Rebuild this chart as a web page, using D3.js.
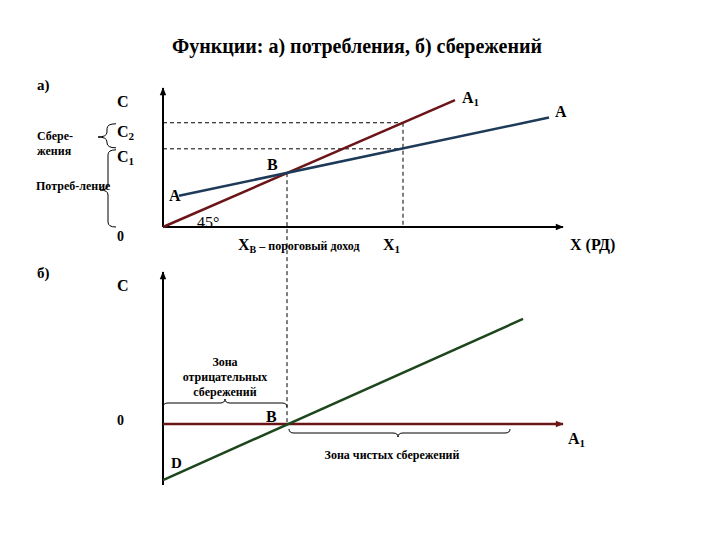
<!DOCTYPE html>
<html><head><meta charset="utf-8">
<script src="https://cdn.jsdelivr.net/npm/d3@7"></script>
<style>body{margin:0;background:#fff}svg{display:block}</style>
</head><body>
<script>
// ---- data ----
const title = "Функции: а) потребления, б) сбережений";
const incomeKeys = ["xB", "x1"];
const incomeValues = [3.1, 6.0];          // threshold income X_B, income X1
const consumptionLevels = [4.5, 6.0];     // C1, C2
const line45 = [{x: 0, y: 0}, {x: 7.3, y: 7.3}];               // A1 (45° line)
const consumptionLine = [{x: 0.4, y: 1.8}, {x: 9.65, y: 6.3}]; // A
const savingsLine = [{x: 0, y: -1.6}, {x: 9.0, y: 3.0}];       // D..S
const zeroLine = [{x: 0, y: 0}, {x: 10, y: 0}];                // A1 in panel б
const upperDomainY = [0, 8];
const lowerDomainY = [-1.74, 4.34];
const domainX = [0, 10];

const W = 720, H = 540;
const svg = d3.select("body").append("svg").attr("width", W).attr("height", H)
  .attr("font-family", "'Liberation Serif', 'DejaVu Serif', serif").attr("font-weight", "bold");
const defs = svg.append("defs");
function marker(id, color) {
  defs.append("marker").attr("id", id).attr("viewBox", "0 0 10 10").attr("refX", 9).attr("refY", 5)
    .attr("markerWidth", 10).attr("markerHeight", 8).attr("markerUnits", "userSpaceOnUse").attr("orient", "auto")
    .append("path").attr("d", "M0,1 L10,5 L0,9 Z").attr("fill", color);
}
marker("arBlack", "#000");
marker("arRed", "#6b1518");

const x = d3.scaleLinear().domain(domainX).range([163, 563]);
const yU = d3.scaleLinear().domain(upperDomainY).range([227, 88]);
const yL = d3.scaleLinear().domain(lowerDomainY).range([485, 272]);

const RED = "#6b1518", BLUE = "#1d3a58", GREEN = "#1d461d";
const line = (ys) => d3.line().x(d => x(d.x)).y(d => ys(d.y));

// title
svg.append("text").attr("x", 357).attr("y", 53).attr("text-anchor", "middle").attr("font-size", 20).text(title);

// ---------- panel a ----------
const g = svg.append("g");
const xB = incomeValues[0], x1 = incomeValues[1];
const c1 = consumptionLevels[0], c2 = consumptionLevels[1];
const dash = "4,3";
g.append("line").attr("x1", x(0)).attr("x2", x(x1)).attr("y1", yU(c2)).attr("y2", yU(c2)).attr("stroke", "#000").attr("stroke-dasharray", dash);
g.append("line").attr("x1", x(0)).attr("x2", x(x1)).attr("y1", yU(c1)).attr("y2", yU(c1)).attr("stroke", "#000").attr("stroke-dasharray", dash);
g.append("line").attr("x1", x(x1)).attr("x2", x(x1)).attr("y1", yU(c2)).attr("y2", yU(0)).attr("stroke", "#000").attr("stroke-dasharray", dash);
g.append("line").attr("x1", x(xB)).attr("x2", x(xB)).attr("y1", yU(xB)).attr("y2", yL(0)).attr("stroke", "#000").attr("stroke-dasharray", dash);

g.append("line").attr("x1", x(0)).attr("y1", yU(0)).attr("x2", x(0)).attr("y2", yU(upperDomainY[1])).attr("stroke", "#000").attr("stroke-width", 2).attr("marker-end", "url(#arBlack)");
g.append("line").attr("x1", x(0)).attr("y1", yU(0)).attr("x2", x(domainX[1])).attr("y2", yU(0)).attr("stroke", "#000").attr("stroke-width", 2).attr("marker-end", "url(#arBlack)");

g.append("path").attr("d", line(yU)(line45)).attr("stroke", RED).attr("stroke-width", 2.5).attr("fill", "none");
g.append("path").attr("d", line(yU)(consumptionLine)).attr("stroke", BLUE).attr("stroke-width", 2.5).attr("fill", "none");

function sub(sel, main, s, fs, sfs) {
  sel.append("tspan").text(main).attr("font-size", fs);
  sel.append("tspan").text(s).attr("font-size", sfs).attr("dy", 3);
}
svg.append("text").attr("x", 37).attr("y", 90).attr("font-size", 15).text("а)");
svg.append("text").attr("x", 117).attr("y", 107).attr("font-size", 16).text("C");
sub(svg.append("text").attr("x", 117).attr("y", 137), "C", "2", 16, 11);
sub(svg.append("text").attr("x", 117).attr("y", 162), "C", "1", 16, 11);
svg.append("text").attr("x", 117).attr("y", 241).attr("font-size", 14).text("0");
svg.append("text").attr("x", 37).attr("y", 140).attr("font-size", 12).text("Сбере-");
svg.append("text").attr("x", 37).attr("y", 155).attr("font-size", 12).text("жения");
svg.append("text").attr("x", 36).attr("y", 190).attr("font-size", 12).text("Потреб-ление");

sub(svg.append("text").attr("x", x(line45[1].x) + 7).attr("y", yU(line45[1].y) + 3), "A", "1", 16, 11);
svg.append("text").attr("x", x(consumptionLine[1].x) + 6).attr("y", yU(consumptionLine[1].y) - 1).attr("font-size", 16).text("A");
svg.append("text").attr("x", x(consumptionLine[0].x) - 10).attr("y", yU(consumptionLine[0].y) + 5).attr("font-size", 16).text("A");
svg.append("text").attr("x", x(xB) - 20).attr("y", yU(xB) - 3).attr("font-size", 16).text("B");
svg.append("text").attr("x", 197).attr("y", 228).attr("font-size", 16).attr("font-weight", "normal").text("45°");

const tB = svg.append("text").attr("x", 238).attr("y", 250);
tB.append("tspan").text("X").attr("font-size", 16);
tB.append("tspan").text("B").attr("font-size", 10).attr("dy", 3);
tB.append("tspan").text(" – пороговый доход").attr("font-size", 12).attr("dy", -3);
sub(svg.append("text").attr("x", x(x1) - 20).attr("y", 250), "X", "1", 16, 11);
svg.append("text").attr("x", 570).attr("y", 250).attr("font-size", 16).text("X (РД)");

function vBrace(xr, y1, y2, tipY, d) {
  const xm = xr - d / 2, xt = xr - d, r = 5;
  return `M${xr},${y1} Q${xm},${y1} ${xm},${y1 + r} L${xm},${tipY - r} Q${xm},${tipY} ${xt},${tipY} Q${xm},${tipY} ${xm},${tipY + r} L${xm},${y2 - r} Q${xm},${y2} ${xr},${y2}`;
}
svg.append("path").attr("d", vBrace(116, yU(c2) + 1, yU(c1) - 1, 137, 18)).attr("fill", "none").attr("stroke", "#000");
svg.append("path").attr("d", vBrace(116, yU(c1) + 1, yU(0), 190, 16)).attr("fill", "none").attr("stroke", "#000");

function hBrace(x1_, x2_, yEnd, tipX, d) {
  const ym = yEnd + d / 2, yt = yEnd + d, r = 5;
  return `M${x1_},${yEnd} Q${x1_},${ym} ${x1_ + r},${ym} L${tipX - r},${ym} Q${tipX},${ym} ${tipX},${yt} Q${tipX},${ym} ${tipX + r},${ym} L${x2_ - r},${ym} Q${x2_},${ym} ${x2_},${yEnd}`;
}

// ---------- panel б ----------
svg.append("text").attr("x", 37).attr("y", 278).attr("font-size", 15).text("б)");
svg.append("text").attr("x", 117).attr("y", 291).attr("font-size", 16).text("C");
svg.append("text").attr("x", 117).attr("y", 425).attr("font-size", 14).text("0");

svg.append("line").attr("x1", x(0)).attr("y1", yL(lowerDomainY[0])).attr("x2", x(0)).attr("y2", yL(lowerDomainY[1])).attr("stroke", "#000").attr("stroke-width", 2).attr("marker-end", "url(#arBlack)");
svg.append("path").attr("d", line(yL)(zeroLine)).attr("stroke", RED).attr("stroke-width", 2.5).attr("fill", "none").attr("marker-end", "url(#arRed)");
svg.append("path").attr("d", line(yL)(savingsLine)).attr("stroke", GREEN).attr("stroke-width", 2.5).attr("fill", "none");

svg.append("path").attr("d", hBrace(x(0), x(xB), 407, 225, -8)).attr("fill", "none").attr("stroke", "#000");
svg.append("path").attr("d", hBrace(x(xB) + 2, 510, 429, 398, 8)).attr("fill", "none").attr("stroke", "#000");

const zt = ["Зона", "отрицательных", "сбережений"];
zt.forEach((t, i) => svg.append("text").attr("x", 225).attr("y", 366 + i * 15).attr("text-anchor", "middle").attr("font-size", 12).text(t));
svg.append("text").attr("x", 392).attr("y", 459).attr("text-anchor", "middle").attr("font-size", 12).text("Зона чистых сбережений");

svg.append("text").attr("x", x(xB) - 21).attr("y", yL(0) - 2).attr("font-size", 16).text("B");
svg.append("text").attr("x", 171).attr("y", 468).attr("font-size", 15).text("D");
sub(svg.append("text").attr("x", 568).attr("y", 444), "A", "1", 16, 11);
</script>
</body></html>
